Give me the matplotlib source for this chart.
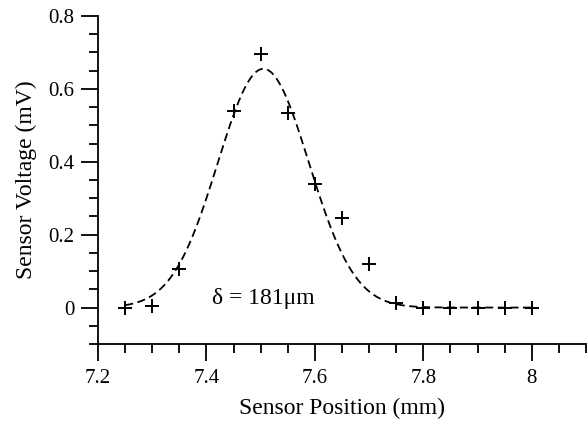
import matplotlib
matplotlib.use("Agg")
import matplotlib.pyplot as plt
import numpy as np
from matplotlib.ticker import MultipleLocator

# measured points
position_mm = [7.25, 7.30, 7.35, 7.45, 7.50, 7.55, 7.60, 7.65, 7.70, 7.75,
               7.80, 7.85, 7.90, 7.95, 8.00]
voltage_mv = [0.0, 0.005, 0.105, 0.54, 0.695, 0.535, 0.34, 0.245, 0.12, 0.012,
              0.0, 0.0, 0.0, 0.0, 0.0]

# gaussian fit parameters
FIT_AMP = 0.655
FIT_CENTER = 7.505
FIT_SIGMA = 0.084
FIT_RANGE = (7.25, 8.0)

plt.rcParams["font.family"] = ["Liberation Serif", "DejaVu Serif"]
plt.rcParams["font.size"] = 15

fig = plt.figure(figsize=(5.88, 4.21), dpi=100)
ax = fig.add_axes([98 / 588, 77 / 421, 488 / 588, 328 / 421])

xf = np.linspace(*FIT_RANGE, 300)
yf = FIT_AMP * np.exp(-(xf - FIT_CENTER) ** 2 / (2 * FIT_SIGMA ** 2))
ax.plot(xf, yf, color="black", linewidth=1.3, linestyle=(0, (4.5, 2.5)))
ax.plot(position_mm, voltage_mv, linestyle="none", marker="+", color="black",
        markersize=9.5, markeredgewidth=1.4)

ax.text(7.41, 0.025, "δ = 181μm", fontsize=17, va="center", ha="left")

ax.set_xlim(7.2, 8.1)
ax.set_ylim(-0.1, 0.8)
ax.xaxis.set_minor_locator(MultipleLocator(0.05))
ax.yaxis.set_minor_locator(MultipleLocator(0.05))
ax.set_xticks([7.2, 7.4, 7.6, 7.8, 8.0])
ax.set_xticklabels(["7.2", "7.4", "7.6", "7.8", "8"])
ax.set_yticks([0, 0.2, 0.4, 0.6, 0.8])
ax.set_yticklabels(["0", "0.2", "0.4", "0.6", "0.8"])

for s in ("top", "right"):
    ax.spines[s].set_visible(False)
for s in ("left", "bottom"):
    ax.spines[s].set_linewidth(1.3)
ax.tick_params(which="major", direction="out", length=12, width=1.3, labelsize=15)
ax.tick_params(axis="x", which="major", pad=6)
ax.tick_params(axis="y", which="major", pad=5)
ax.tick_params(which="minor", direction="out", length=6.5, width=1.3)

ax.set_xlabel("Sensor Position (mm)", fontsize=17, labelpad=7)
ax.set_ylabel("Sensor Voltage (mV)", fontsize=17, labelpad=8)

fig.savefig("out.png", dpi=100)
